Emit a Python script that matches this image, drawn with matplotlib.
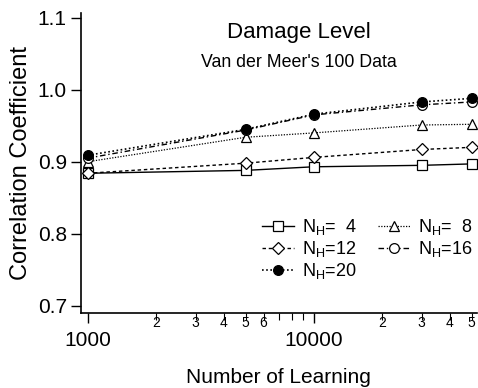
import matplotlib
matplotlib.use("Agg")
import matplotlib.pyplot as plt
from matplotlib.ticker import FixedLocator, FixedFormatter

plt.rcParams['font.family'] = ['Liberation Sans', 'DejaVu Sans']

learning = [1000, 5000, 10000, 30000, 50000]
nh4 = [0.884, 0.888, 0.893, 0.895, 0.897]
nh8 = [0.900, 0.934, 0.940, 0.951, 0.952]
nh12 = [0.884, 0.898, 0.906, 0.917, 0.920]
nh16 = [0.905, 0.944, 0.965, 0.979, 0.983]
nh20 = [0.909, 0.945, 0.966, 0.983, 0.988]

y_ticks = [0.7, 0.8, 0.9, 1.0, 1.1]
x_major = [1000, 10000]
x_minor = [2000, 3000, 4000, 5000, 6000, 7000, 8000, 9000, 20000, 30000, 40000, 50000]
x_minor_labels = ['2', '3', '4', '5', '6', '', '', '', '2', '3', '4', '5']

fig = plt.figure(figsize=(4.78, 3.88), dpi=100)
ax = fig.add_axes([80.7/478, (388-313)/388, (477-80.7)/478, (313-13)/388])

mk = dict(markersize=7, markeredgewidth=0.9, color='black', markeredgecolor='black')
l4, = ax.plot(learning, nh4, '-', marker='s', markerfacecolor='white', lw=1.0, label=r'N$_\mathregular{H}$=  4', **mk)
l8, = ax.plot(learning, nh8, linestyle=(0, (1, 1.2)), marker='^', markerfacecolor='white', lw=0.9, label=r'N$_\mathregular{H}$=  8', **mk)
l12, = ax.plot(learning, nh12, linestyle=(0, (2.5, 2)), marker='D', markerfacecolor='white', lw=1.0, label=r'N$_\mathregular{H}$=12', markersize=6, markeredgewidth=0.9, color='black', markeredgecolor='black')
l16, = ax.plot(learning, nh16, linestyle=(0, (4, 2, 1, 2)), marker='o', markerfacecolor='white', lw=1.0, label=r'N$_\mathregular{H}$=16', **mk)
l20, = ax.plot(learning, nh20, linestyle=(0, (1, 1.5)), marker='o', markerfacecolor='black', lw=1.2, label=r'N$_\mathregular{H}$=20', **mk)

ax.set_xscale('log')
ax.set_xlim(931, 52800)
ax.set_ylim(0.690, 1.1065)

ax.xaxis.set_major_locator(FixedLocator(x_major))
ax.xaxis.set_major_formatter(FixedFormatter([str(v) for v in x_major]))
ax.xaxis.set_minor_locator(FixedLocator(x_minor))
ax.xaxis.set_minor_formatter(FixedFormatter(x_minor_labels))
ax.set_yticks(y_ticks)
ax.set_yticklabels([f'{v:.1f}' for v in y_ticks])

ax.tick_params(axis='both', which='major', direction='out', length=7, width=1, labelsize=15, colors='black')
ax.tick_params(axis='x', which='major', pad=6)
ax.tick_params(axis='x', which='minor', direction='out', length=5, width=0.8, labelsize=10, pad=-3)
ax.tick_params(axis='y', which='major', pad=3)

for s in ['top', 'right']:
    ax.spines[s].set_visible(False)
for s in ['left', 'bottom']:
    ax.spines[s].set_linewidth(1.2)

ax.set_ylabel('Correlation Coefficient', fontsize=17, labelpad=4)
ax.set_xlabel('Number of Learning', fontsize=15, labelpad=13)

ax.text(0.55, 0.935, 'Damage Level', transform=ax.transAxes, ha='center', va='center', fontsize=16)
ax.text(0.55, 0.835, "Van der Meer's 100 Data", transform=ax.transAxes, ha='center', va='center', fontsize=12.8)

handles = [l4, l12, l20, l8, l16]
ax.legend(handles=handles, labels=[h.get_label() for h in handles],
          loc='lower right', bbox_to_anchor=(1.02, 0.065), ncol=2, frameon=False, fontsize=13,
          handlelength=1.8, handletextpad=0.4, columnspacing=1.2, labelspacing=0.1, borderpad=0.2)

fig.savefig('out.png', dpi=100)
